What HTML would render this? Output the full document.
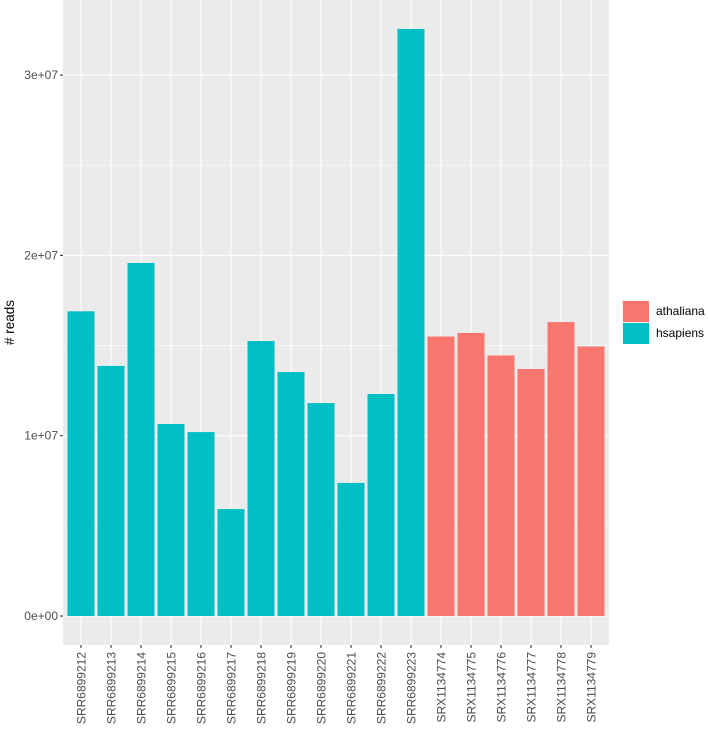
<!DOCTYPE html>
<html><head><style>
body{margin:0;background:#fff;font-family:"Liberation Sans",sans-serif}
</style></head><body>
<svg id="c" width="708" height="729" xmlns="http://www.w3.org/2000/svg"></svg>
<script>
const categories=["SRR6899212","SRR6899213","SRR6899214","SRR6899215","SRR6899216","SRR6899217","SRR6899218","SRR6899219","SRR6899220","SRR6899221","SRR6899222","SRR6899223","SRX1134774","SRX1134775","SRX1134776","SRX1134777","SRX1134778","SRX1134779"];
const values=[1.69e7,1.387e7,1.958e7,1.065e7,1.02e7,0.593e7,1.525e7,1.353e7,1.181e7,0.738e7,1.231e7,3.256e7,1.55e7,1.57e7,1.445e7,1.37e7,1.63e7,1.495e7];
const groups=["hsapiens","hsapiens","hsapiens","hsapiens","hsapiens","hsapiens","hsapiens","hsapiens","hsapiens","hsapiens","hsapiens","hsapiens","athaliana","athaliana","athaliana","athaliana","athaliana","athaliana"];
const yTicks=[0,1e7,2e7,3e7];
const yTickLabels=["0e+00","1e+07","2e+07","3e+07"];
const legendLabels=["athaliana","hsapiens"];
const colors={athaliana:"#F8766D",hsapiens:"#00BFC4"};
const NS="http://www.w3.org/2000/svg";
const svg=document.getElementById('c');
const L=63,T=0,B=645,y0=616,pxPer=180.3/1e7,step=30;
const R=L+step*categories.length+ (step*0.6*2-step);
const x=i=>L+18+i*step;
const y=v=>y0-v*pxPer;
function mk(t,a,p){const e=document.createElementNS(NS,t);for(const k in a)e.setAttribute(k,a[k]);(p||svg).appendChild(e);return e;}
const panel=mk('rect',{x:L,y:T,width:R-L,height:B-T,fill:'#EBEBEB'});


for(let k=0;k<yTicks.length;k++){const v=yTicks[k]+0.5e7;const yy=y(v);if(yy>T){const g=mk('line',{x1:L,x2:R,y1:yy,y2:yy,stroke:'#fff','stroke-width':0.55});}}
yTicks.forEach((v,k)=>{const yy=y(v);
const g=mk('line',{x1:L,x2:R,y1:yy,y2:yy,stroke:'#fff','stroke-width':1.1});


const t=mk('line',{x1:L-3,x2:L,y1:yy,y2:yy,stroke:'#333','stroke-width':1.1});


const tx=mk('text',{x:L-5,y:yy+4,'text-anchor':'end','font-size':12,fill:'#4D4D4D'});tx.textContent=yTickLabels[k];

});
categories.forEach((c,i)=>{const cx=x(i);
const g=mk('line',{x1:cx,x2:cx,y1:T,y2:B,stroke:'#fff','stroke-width':1.1});


const r=mk('rect',{x:cx-13.5,y:y(values[i]),width:27,height:y0-y(values[i]),fill:colors[groups[i]]});


const t=mk('line',{x1:cx,x2:cx,y1:B,y2:B+3,stroke:'#333','stroke-width':1.1});


const tx=mk('text',{x:0,y:0,transform:`translate(${cx+4.5},${B+7}) rotate(-90)`,'text-anchor':'end','font-size':12,fill:'#4D4D4D'});tx.textContent=c;

});
const yt=mk('text',{x:0,y:0,transform:`translate(14,${(T+B)/2}) rotate(-90)`,'text-anchor':'middle','font-size':13.5,fill:'#000'});yt.textContent='# reads';


legendLabels.forEach((g,k)=>{const ly=300+k*22;
const kb=mk('rect',{x:622,y:ly,width:27,height:22,fill:'#F2F2F2'});


const kr=mk('rect',{x:623,y:ly+1,width:26,height:21,fill:colors[g]});


const tx=mk('text',{x:656,y:ly+15,'font-size':12,fill:'#000'});tx.textContent=g;

});
</script>
</body></html>
